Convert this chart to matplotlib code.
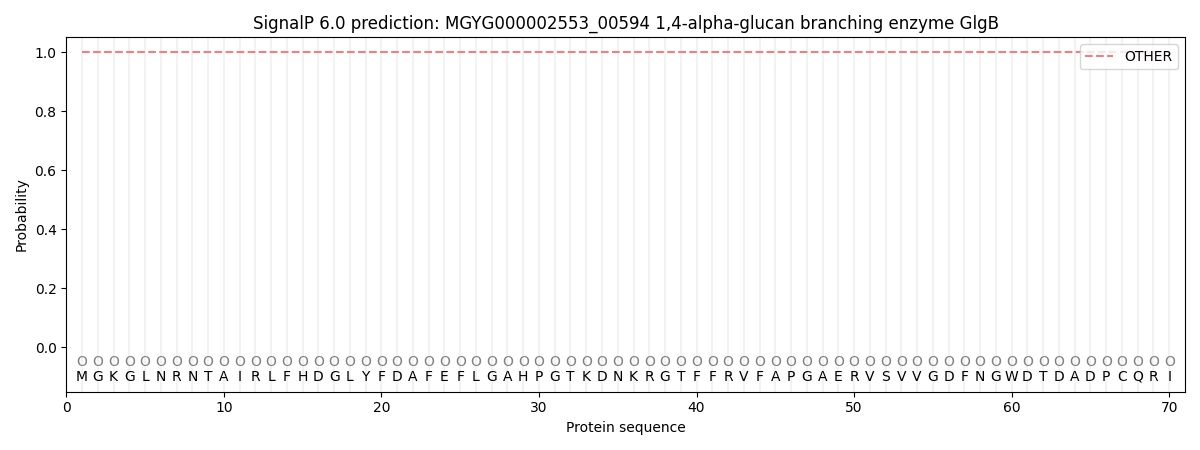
import matplotlib
matplotlib.use("Agg")
import matplotlib.pyplot as plt
import numpy as np

title = "SignalP 6.0 prediction: MGYG000002553_00594 1,4-alpha-glucan branching enzyme GlgB"
sequence = list("MGKGLNRNTAIRLFHDGLYFDAFEFLGAHPGTKDNKRGTFFRVFAPGAERVSVVGDFNGWDTDADPCQRI")
labels = ["O"] * len(sequence)
prob_other = [1.0] * len(sequence)

pos = np.arange(1, len(sequence) + 1)

fig, ax = plt.subplots(figsize=(12, 4.5), dpi=100)

for x in pos:
    ax.axvline(x, color="#f2f2f2", linewidth=1.5, zorder=0)

ax.plot(pos, prob_other, linestyle="--", color="#f08080", label="OTHER")

for x, aa, lab in zip(pos, sequence, labels):
    ax.text(x, -0.05, lab, ha="center", va="center", fontsize=10, color="grey")
    ax.text(x, -0.1, aa, ha="center", va="center", fontsize=10)

ax.set_xlim(0, 71)
ax.set_ylim(-0.15, 1.05)
ax.set_xlabel("Protein sequence")
ax.set_ylabel("Probability")
ax.set_title(title)
ax.legend(loc="upper right")

plt.tight_layout()
plt.savefig("out.png")
